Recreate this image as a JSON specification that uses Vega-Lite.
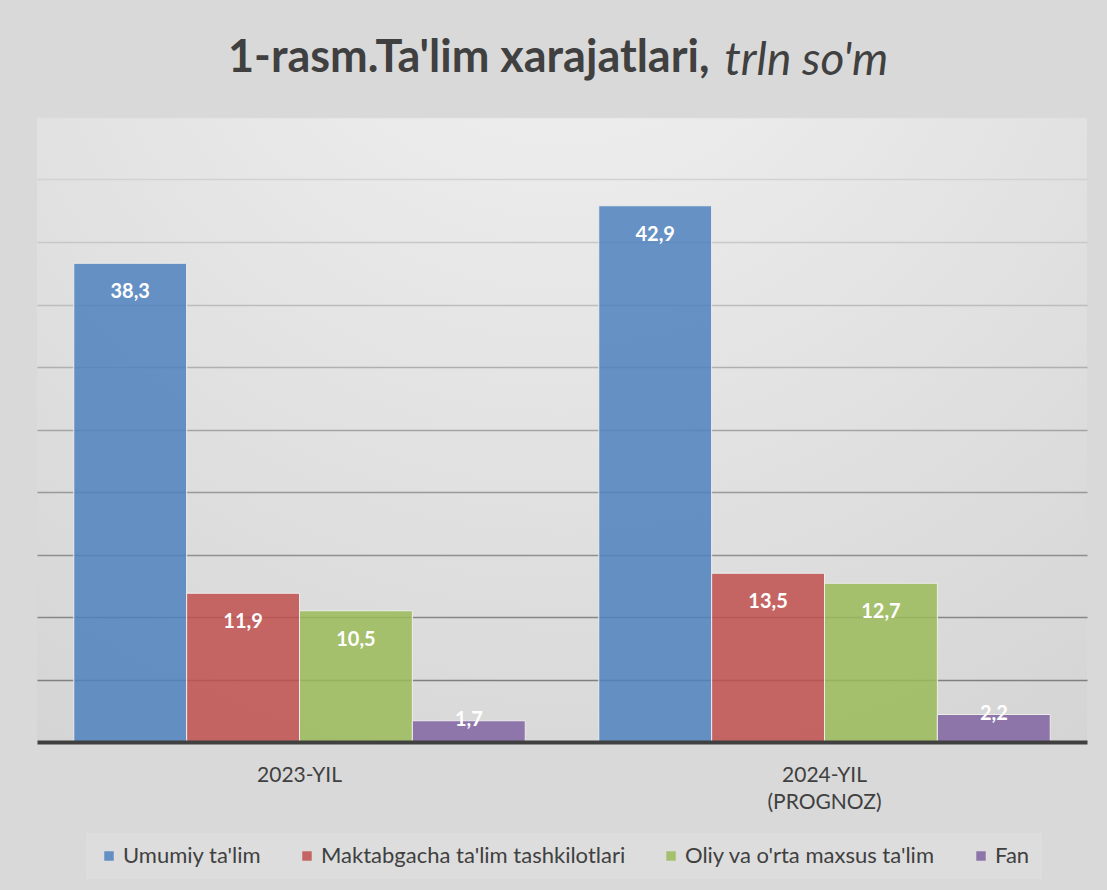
{
  "$schema": "https://vega.github.io/schema/vega-lite/v6.json",
  "width": 1050,
  "height": 625,
  "autosize": {"type": "none"},
  "padding": {"left": 37, "top": 117, "right": 20, "bottom": 148},
  "background": "#d9d9d9",
  "title": {
    "text": "1-rasm.Ta'lim xarajatlari,",
    "anchor": "start",
    "align": "left",
    "dx": 191,
    "baseline": "top",
    "offset": -44,
    "font": "Lato",
    "fontSize": 45,
    "fontWeight": "bold",
    "color": "#404040"
  },
  "data": {
    "values": [
      {"year": "2023-YIL", "cat": "Umumiy ta'lim", "value": 38.3},
      {"year": "2023-YIL", "cat": "Maktabgacha ta'lim tashkilotlari", "value": 11.9},
      {"year": "2023-YIL", "cat": "Oliy va o'rta maxsus ta'lim", "value": 10.5},
      {"year": "2023-YIL", "cat": "Fan", "value": 1.7},
      {"year": "2024-YIL|(PROGNOZ)", "cat": "Umumiy ta'lim", "value": 42.9},
      {"year": "2024-YIL|(PROGNOZ)", "cat": "Maktabgacha ta'lim tashkilotlari", "value": 13.5},
      {"year": "2024-YIL|(PROGNOZ)", "cat": "Oliy va o'rta maxsus ta'lim", "value": 12.7},
      {"year": "2024-YIL|(PROGNOZ)", "cat": "Fan", "value": 2.2}
    ]
  },
  "transform": [
    {"calculate": "replace(format(datum.value, '.1f'), '.', ',')", "as": "label"}
  ],
  "encoding": {
    "x": {
      "field": "year",
      "type": "nominal",
      "sort": null,
      "scale": {"paddingInner": 0.14, "paddingOuter": 0.07},
      "axis": {
        "title": null,
        "labelAngle": 0,
        "ticks": false,
        "domainColor": "#404040",
        "domainWidth": 4,
        "labelFont": "Lato",
        "labelFontSize": 21,
        "labelColor": "#404040",
        "labelPadding": 22,
        "labelLineHeight": 27,
        "labelExpr": "split(datum.label, '|')",
        "zindex": 1
      }
    },
    "xOffset": {
      "field": "cat",
      "type": "nominal",
      "sort": ["Umumiy ta'lim", "Maktabgacha ta'lim tashkilotlari", "Oliy va o'rta maxsus ta'lim", "Fan"],
      "scale": {"paddingInner": 0, "paddingOuter": 0}
    },
    "y": {
      "field": "value",
      "type": "quantitative",
      "scale": {"domain": [0, 50], "nice": false},
      "axis": {
        "title": "trln so'm",
        "titleAngle": 0,
        "titleX": 687,
        "titleY": -43,
        "titleAlign": "left",
        "titleBaseline": "alphabetic",
        "titleFont": "Lato",
        "titleFontSize": 46,
        "titleFontStyle": "italic",
        "titleFontWeight": "normal",
        "titleColor": "#404040",
        "labels": false,
        "ticks": false,
        "domain": false,
        "values": [5, 10, 15, 20, 25, 30, 35, 40, 45, 50],
        "gridWidth": 1.5,
        "gridColor": {
          "condition": [
            {"test": "datum.value >= 50", "value": "#dadada"},
            {"test": "datum.value >= 45", "value": "#d2d2d2"},
            {"test": "datum.value >= 40", "value": "#c8c8c8"},
            {"test": "datum.value >= 35", "value": "#bdbdbd"},
            {"test": "datum.value >= 30", "value": "#b0b0b0"},
            {"test": "datum.value >= 25", "value": "#a4a4a4"},
            {"test": "datum.value >= 20", "value": "#999999"},
            {"test": "datum.value >= 15", "value": "#8f8f8f"},
            {"test": "datum.value >= 10", "value": "#878787"}
          ],
          "value": "#7f7f7f"
        }
      }
    }
  },
  "layer": [
    {
      "mark": {"type": "bar", "fillOpacity": 0.85, "stroke": "#ececec", "strokeWidth": 1},
      "encoding": {
        "color": {
          "field": "cat",
          "type": "nominal",
          "sort": ["Umumiy ta'lim", "Maktabgacha ta'lim tashkilotlari", "Oliy va o'rta maxsus ta'lim", "Fan"],
          "scale": {
            "domain": ["Umumiy ta'lim", "Maktabgacha ta'lim tashkilotlari", "Oliy va o'rta maxsus ta'lim", "Fan"],
            "range": ["#4F81BD", "#C0504D", "#9BBB59", "#8064A2"]
          },
          "legend": {
            "title": null,
            "orient": "none",
            "legendX": 49,
            "legendY": 716,
            "direction": "horizontal",
            "fillColor": "#dddddd",
            "padding": 12,
            "labelFont": "Lato",
            "labelFontSize": 22,
            "labelColor": "#404040",
            "labelLimit": 500,
            "labelOffset": 3,
            "columnPadding": 34,
            "symbolType": "square",
            "symbolSize": 90,
            "symbolStrokeWidth": 0,
            "symbolOpacity": 0.85
          }
        }
      }
    },
    {
      "transform": [{"filter": "datum.value > 5"}],
      "mark": {"type": "text", "dy": 29, "baseline": "middle", "font": "Lato", "fontSize": 20, "fontWeight": "bold", "color": "#ffffff"},
      "encoding": {"text": {"field": "label"}}
    },
    {
      "transform": [{"filter": "datum.value <= 5"}],
      "mark": {"type": "text", "dy": -1, "baseline": "middle", "font": "Lato", "fontSize": 20, "fontWeight": "bold", "color": "#ffffff"},
      "encoding": {"text": {"field": "label"}}
    }
  ],
  "config": {
    "view": {
      "stroke": null,
      "fill": {
        "gradient": "radial",
        "x1": 0.5, "y1": 0, "r1": 0,
        "x2": 0.5, "y2": 0, "r2": 1.2,
        "stops": [
          {"offset": 0, "color": "#f3f3f3"},
          {"offset": 1, "color": "#cccccc"}
        ]
      }
    }
  }
}
